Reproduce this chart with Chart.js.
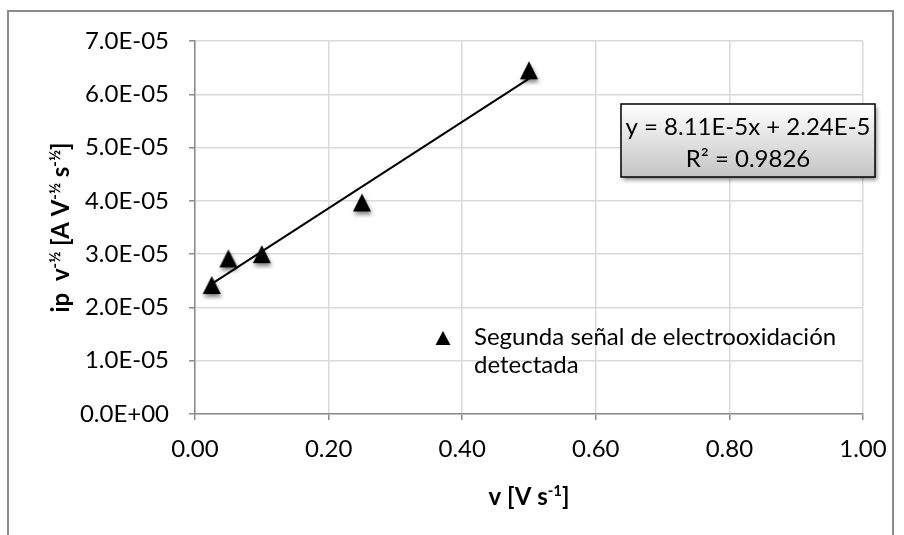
<!DOCTYPE html>
<html><head><meta charset="utf-8">
<script src="https://cdn.jsdelivr.net/npm/chart.js@4/dist/chart.umd.min.js"></script>
<style>html,body{margin:0;padding:0;background:#fff;}#wrap{width:904px;height:535px;}</style>
</head><body><div id="wrap"><canvas id="c" width="904" height="535"></canvas></div>
<script>
// ---- data ----
const scanRates = [0.025, 0.05, 0.1, 0.25, 0.5];            // v [V s-1]
const peakCurrents = [2.42e-5, 2.92e-5, 3.00e-5, 3.97e-5, 6.45e-5]; // ip v^-1/2
const trendX = [0.025, 0.5];
const trendY = [2.443e-5, 6.295e-5];
const xTickValues = [0, 0.2, 0.4, 0.6, 0.8, 1.0];
const yTickValues = [0, 1e-5, 2e-5, 3e-5, 4e-5, 5e-5, 6e-5, 7e-5];
const seriesName = 'Segunda señal de electrooxidación detectada';
const legendLines = ['Segunda señal de electrooxidación', 'detectada'];
const equationLines = ['y = 8.11E-5x + 2.24E-5', 'R² = 0.9826'];

const FONT = 'Lato';
const FS = 24;

function sci(v){
  if (Math.abs(v) < 1e-15) return '0.0E+00';
  let e = Math.floor(Math.log10(Math.abs(v)) + 1e-9);
  let m = v / Math.pow(10, e);
  return m.toFixed(1) + 'E' + (e < 0 ? '-' : '+') + String(Math.abs(e)).padStart(2, '0');
}

function makeTriangle(w, h, shadow){
  const c = document.createElement('canvas');
  c.width = 32; c.height = 32;
  const g = c.getContext('2d');
  if (shadow){
    g.shadowColor = 'rgba(0,0,0,0.5)';
    g.shadowBlur = 4; g.shadowOffsetX = 1; g.shadowOffsetY = 3;
  }
  g.fillStyle = '#000';
  g.beginPath();
  g.moveTo(16, 16 - h/2);
  g.lineTo(16 + w/2, 16 + h/2);
  g.lineTo(16 - w/2, 16 + h/2);
  g.closePath();
  g.fill();
  return c;
}
const triImg = makeTriangle(18, 18, true);

function drawRich(ctx, parts, cx, cy, bold, size){
  const big = (bold ? 'bold ' : '') + size + 'px ' + FONT;
  const small = (bold ? 'bold ' : '') + Math.round(size*0.62) + 'px ' + FONT;
  let total = 0;
  parts.forEach(p => { ctx.font = p[1] ? small : big; total += ctx.measureText(p[0]).width; });
  let x = cx - total/2;
  ctx.textBaseline = 'alphabetic';
  ctx.textAlign = 'left';
  parts.forEach(p => {
    ctx.font = p[1] ? small : big;
    ctx.fillText(p[0], x, cy + (p[1] ? -size*0.38 : 0));
    x += ctx.measureText(p[0]).width;
  });
}

const decor = {
  id: 'decor',
  beforeDraw(chart){
    const ctx = chart.ctx;
    ctx.save();
    ctx.fillStyle = '#fff';
    ctx.fillRect(0, 0, chart.width, chart.height);
    ctx.strokeStyle = '#8c8c8c';
    ctx.lineWidth = 2;
    ctx.beginPath();
    ctx.moveTo(8, 540); ctx.lineTo(8, 11); ctx.lineTo(893, 11); ctx.lineTo(893, 540);
    ctx.stroke();
    ctx.restore();
  },
  afterDraw(chart){
    const ctx = chart.ctx;
    const a = chart.chartArea;
    ctx.save();
    ctx.fillStyle = '#000';
    // y title (rotated)
    ctx.save();
    ctx.translate(69, (a.top + a.bottom)/2);
    ctx.rotate(-Math.PI/2);
    drawRich(ctx, [['ip  v',0],['-½',1],[' [A V',0],['-½',1],[' s',0],['-½',1],[']',0]], 0, 0, true, FS);
    ctx.restore();
    // x title
    drawRich(ctx, [['v [V s',0],['-1',1],[']',0]], (a.left + a.right)/2, 505, true, FS);
    // legend
    ctx.drawImage(makeTriangle(15, 14, false), 443 - 16, 338 - 16);
    ctx.font = FS + 'px ' + FONT;
    ctx.textAlign = 'left'; ctx.textBaseline = 'middle';
    ctx.fillText(legendLines[0], 474, 337);
    ctx.fillText(legendLines[1], 474, 365);
    // equation box
    const bx = 621, by = 104, bw = 254, bh = 73;
    ctx.save();
    ctx.shadowColor = 'rgba(0,0,0,0.45)';
    ctx.shadowBlur = 4; ctx.shadowOffsetX = 2; ctx.shadowOffsetY = 3;
    const gr = ctx.createLinearGradient(0, by, 0, by + bh);
    gr.addColorStop(0, '#ffffff');
    gr.addColorStop(1, '#c4c4c4');
    ctx.fillStyle = gr;
    ctx.fillRect(bx, by, bw, bh);
    ctx.restore();
    ctx.strokeStyle = '#000'; ctx.lineWidth = 1.5;
    ctx.strokeRect(bx, by, bw, bh);
    ctx.fillStyle = '#000';
    ctx.font = FS + 'px ' + FONT;
    ctx.textAlign = 'center'; ctx.textBaseline = 'middle';
    ctx.fillText(equationLines[0], bx + bw/2, 127);
    ctx.fillText(equationLines[1], bx + bw/2, 159);
    ctx.restore();
  }
};

Chart.defaults.font.family = FONT;
Chart.defaults.font.size = FS;
Chart.defaults.color = '#000';

new Chart(document.getElementById('c'), {
  type: 'scatter',
  data: {
    datasets: [
      {
        label: seriesName,
        data: scanRates.map((v, i) => ({x: v, y: peakCurrents[i]})),
        pointStyle: triImg,
        pointRadius: 10,
        backgroundColor: '#000',
        borderColor: '#000',
        order: 1
      },
      {
        label: 'Lineal',
        data: trendX.map((v, i) => ({x: v, y: trendY[i]})),
        showLine: true,
        borderColor: '#000',
        borderWidth: 2,
        pointRadius: 0,
        order: 2
      }
    ]
  },
  options: {
    responsive: false,
    animation: false,
    layout: {padding: {top: 41, right: 41, left: 0, bottom: 0}},
    plugins: {legend: {display: false}, tooltip: {enabled: false}},
    scales: {
      x: {
        type: 'linear', min: 0, max: 1,
        afterBuildTicks: s => { s.ticks = xTickValues.map(v => ({value: v})); },
        afterFit: s => { s.height = 535 - 414; },
        ticks: {callback: v => Number(v).toFixed(2), padding: 15, maxRotation: 0},
        grid: {color: '#d9d9d9', lineWidth: 1.5, tickColor: '#8c8c8c', tickLength: 6},
        border: {color: '#8c8c8c', width: 1.5}
      },
      y: {
        type: 'linear', min: 0, max: 7e-5,
        afterBuildTicks: s => { s.ticks = yTickValues.map(v => ({value: v})); },
        afterFit: s => { s.width = 195; },
        ticks: {callback: v => sci(v), padding: 20},
        grid: {color: '#d9d9d9', lineWidth: 1.5, tickColor: '#8c8c8c', tickLength: 6},
        border: {color: '#8c8c8c', width: 1.5}
      }
    }
  },
  plugins: [decor]
});
</script>
</body></html>
